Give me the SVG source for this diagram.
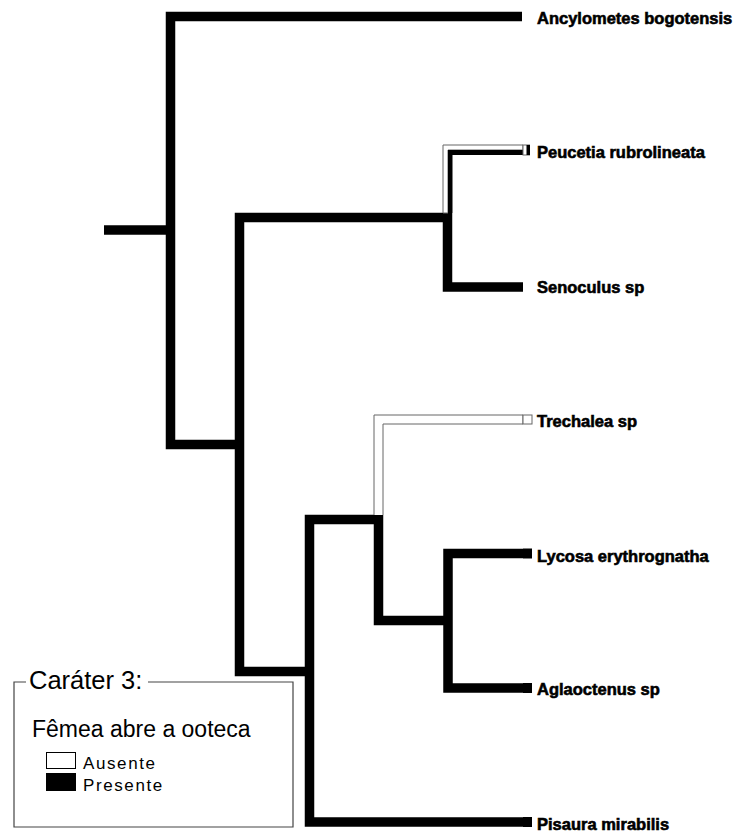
<svg xmlns="http://www.w3.org/2000/svg" width="739" height="832" viewBox="0 0 739 832">
  <style>
    .br { fill: none; stroke: #000; stroke-width: 9.5; stroke-linejoin: miter; stroke-linecap: butt; }
    .abs { fill: #fff; stroke: #666; stroke-width: 1; }
    .pres { fill: #000; }
    .taxon { font-family: "Liberation Sans", Arial, sans-serif; font-weight: bold; font-size: 16.5px; fill: #000; stroke: #000; stroke-width: 0.6; }
    .leg { font-family: "Liberation Sans", Arial, sans-serif; fill: #000; }
  </style>
  <rect width="739" height="832" fill="#fff"/>

  <g id="connectors">
    <!-- root stub -->
    <path class="br" d="M104,230 H171"/>
    <!-- root node -->
    <path class="br" d="M522,16.5 H170.5 V444.5 H240"/>
    <!-- node 2 -->
    <path class="br" d="M448,217.5 H239.5 V671.5 H310"/>
    <!-- Peucetia + Senoculus node -->
    <path class="br" d="M447.5,213 V287 H523"/>
    <!-- Peucetia branch, split: absent (outer) / present (inner) -->
    <path class="abs" d="M443,213 V145 H523 V150 H448 V213 Z"/>
    <path class="pres" d="M448,213 V150 H523 V155 H452.5 V213 Z"/>
    <!-- node 3 -->
    <path class="br" d="M379,519.5 H309.5 V822 H523"/>
    <!-- node 4 -->
    <path class="br" d="M378.5,515 V620.5 H448"/>
    <!-- Trechalea branch, absent -->
    <path class="abs" d="M374,515 V415 H523 V424 H383 V515"/>
    <!-- Lycosa + Aglaoctenus node -->
    <path class="br" d="M523,553.5 H448 V688 H523"/>
  </g>

  <g id="tips">
    <g id="tip-peucetia">
      <rect x="523" y="145" width="6.5" height="10" class="abs"/>
      <rect x="526.5" y="145" width="3.5" height="10" class="pres"/>
    </g>
    <rect id="tip-trechalea" x="523" y="415" width="9" height="9" class="abs"/>
    <rect id="tip-lycosa" x="523" y="548.5" width="9" height="10" class="pres"/>
    <rect id="tip-aglaoctenus" x="523" y="683" width="9" height="10" class="pres"/>
    <rect id="tip-pisaura" x="523" y="817" width="9" height="10" class="pres"/>
  </g>

  <g id="taxa">
    <text id="t-ancylometes" class="taxon" x="537" y="24">Ancylometes bogotensis</text>
    <text id="t-peucetia" class="taxon" x="537" y="158">Peucetia rubrolineata</text>
    <text id="t-senoculus" class="taxon" x="537" y="293">Senoculus sp</text>
    <text id="t-trechalea" class="taxon" x="537" y="427">Trechalea sp</text>
    <text id="t-lycosa" class="taxon" x="537" y="562">Lycosa erythrognatha</text>
    <text id="t-aglaoctenus" class="taxon" x="537" y="695">Aglaoctenus sp</text>
    <text id="t-pisaura" class="taxon" x="537" y="830">Pisaura mirabilis</text>
  </g>

  <g id="legend">
    <path d="M26,682 H14 V827 H293 V682 H148" fill="none" stroke="#444" stroke-width="1.2"/>
    <text class="leg" x="29" y="689" font-size="25.5">Caráter 3:</text>
    <text class="leg" x="32" y="737" font-size="23">Fêmea abre a ooteca</text>
    <rect x="46.5" y="752.5" width="29" height="16" fill="#fff" stroke="#000" stroke-width="1"/>
    <text class="leg" x="83" y="769" font-size="17" letter-spacing="1.6">Ausente</text>
    <rect x="46" y="773" width="30" height="18" fill="#000"/>
    <text class="leg" x="83" y="791" font-size="17" letter-spacing="1.6">Presente</text>
  </g>
</svg>
